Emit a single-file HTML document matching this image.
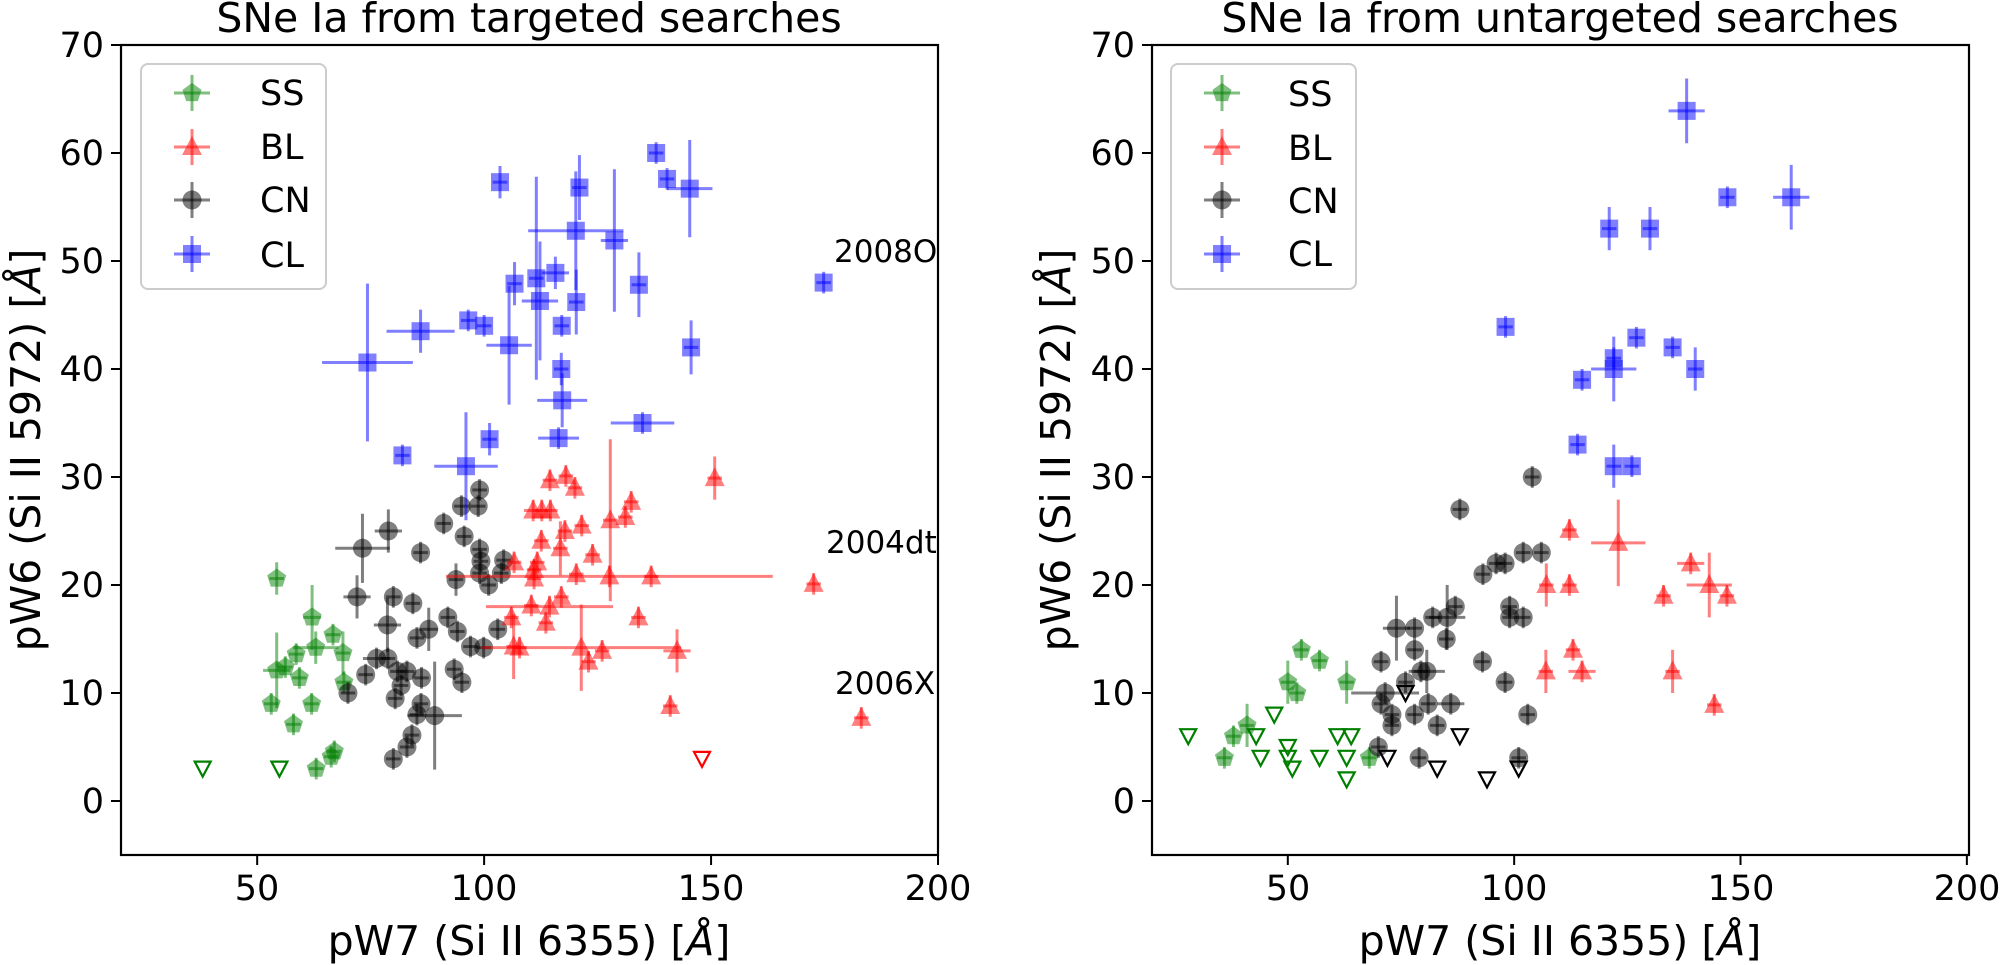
<!DOCTYPE html>
<html><head><meta charset="utf-8">
<style>
html,body{margin:0;padding:0;background:#fff;}
svg{display:block;font-family:"DejaVu Sans","Liberation Sans",sans-serif;}
</style></head>
<body>
<svg id="s" width="2000" height="965" viewBox="0 0 2000 965" xmlns="http://www.w3.org/2000/svg">
<rect width="2000" height="965" fill="#fff"/>
<g id="plot"></g>
<!-- titles -->
<text x="529" y="32" font-size="41" text-anchor="middle">SNe Ia from targeted searches</text>
<text x="1560" y="32" font-size="41" text-anchor="middle">SNe Ia from untargeted searches</text>
<!-- x labels -->
<text x="529" y="955" font-size="41" text-anchor="middle">pW7 (Si II 6355) [<tspan font-style="italic">Å</tspan>]</text>
<text x="1560" y="955" font-size="41" text-anchor="middle">pW7 (Si II 6355) [<tspan font-style="italic">Å</tspan>]</text>
<!-- y labels -->
<text transform="translate(40,450) rotate(-90)" font-size="41" text-anchor="middle">pW6 (Si II 5972) [<tspan font-style="italic">Å</tspan>]</text>
<text transform="translate(1070,450) rotate(-90)" font-size="41" text-anchor="middle">pW6 (Si II 5972) [<tspan font-style="italic">Å</tspan>]</text>
<!-- annotations -->
<text x="834" y="262" font-size="31">2008O</text>
<text x="826" y="553" font-size="31">2004dt</text>
<text x="835" y="694" font-size="31">2006X</text>
<!-- tick labels -->
<g font-size="35" text-anchor="end">
<text x="104" y="813">0</text><text x="104" y="705">10</text><text x="104" y="597">20</text><text x="104" y="489">30</text>
<text x="104" y="381">40</text><text x="104" y="273">50</text><text x="104" y="165">60</text><text x="104" y="57">70</text>
<text x="1135" y="813">0</text><text x="1135" y="705">10</text><text x="1135" y="597">20</text><text x="1135" y="489">30</text>
<text x="1135" y="381">40</text><text x="1135" y="273">50</text><text x="1135" y="165">60</text><text x="1135" y="57">70</text>
</g>
<g font-size="35" text-anchor="middle">
<text x="257" y="900">50</text><text x="484" y="900">100</text><text x="711" y="900">150</text><text x="938" y="900">200</text>
<text x="1288" y="900">50</text><text x="1514" y="900">100</text><text x="1741" y="900">150</text><text x="1967" y="900">200</text>
</g>
<!-- legends -->
<g font-size="35">
<text x="260" y="105">SS</text><text x="260" y="159">BL</text><text x="260" y="212">CN</text><text x="260" y="267">CL</text>
<text x="1288" y="106">SS</text><text x="1288" y="160">BL</text><text x="1288" y="213">CN</text><text x="1288" y="266">CL</text>
</g>
</svg>
<script>
(function(){
var NS="http://www.w3.org/2000/svg";
var g=document.getElementById('plot');
function el(t,a){var e=document.createElementNS(NS,t);for(var k in a)e.setAttribute(k,a[k]);g.appendChild(e);return e;}
var col={SS:"#008000",BL:"#ff0000",CN:"#000000",CL:"#0000ff"};
function marker(kind,cx,cy,c){
  var o={fill:c,'fill-opacity':0.5};
  if(kind=="CL"){o.x=cx-9;o.y=cy-9;o.width=18;o.height=18;el('rect',o);}
  else if(kind=="CN"){o.cx=cx;o.cy=cy;o.r=9.5;el('circle',o);}
  else if(kind=="BL"){o.points=(cx)+","+(cy-11)+" "+(cx-10)+","+(cy+8)+" "+(cx+10)+","+(cy+8);el('polygon',o);}
  else {var p=[];for(var i=0;i<5;i++){var a=-Math.PI/2+i*2*Math.PI/5;p.push((cx+10*Math.cos(a))+","+(cy+10*Math.sin(a)));}o.points=p.join(" ");el('polygon',o);}
}
function pt(X,Y,kind,d){
  var c=col[kind];
  var x=d[0],y=d[1],xe=d[2]||1.6,ye=d[3]||1.0;
  var sx=X(x),sy=Y(y);
  el('line',{x1:X(x-xe),x2:X(x+xe),y1:sy,y2:sy,stroke:c,'stroke-width':3,'stroke-opacity':0.5});
  el('line',{x1:sx,x2:sx,y1:Y(y-ye),y2:Y(y+ye),stroke:c,'stroke-width':3,'stroke-opacity':0.5});
  marker(kind,sx,sy,c);
}
function open(X,Y,c,x,y){var cx=X(x),cy=Y(y);
  el('polygon',{points:(cx-8)+","+(cy-7)+" "+(cx+8)+","+(cy-7)+" "+cx+","+(cy+8),fill:'none',stroke:c,'stroke-width':2.2});}
function Yf(y){return 801-y*10.8;}
function XL(x){return 121+(x-20)*4.539;}
function XR(x){return 1152+(x-20)*4.527;}

var L={
CL:[[137.9,60],[140.3,57.6],[145.3,56.7,5,4.5],[103.5,57.3,0,1.5],[121,56.8,0,3],[120.2,52.8,10.5,5.5],[128.7,51.9,3,6.6],[115.7,48.9,3,1.5],[111.5,48.4,0,9.4],[106.7,47.9,0,2],[112.3,46.3,4,5.5],[120.3,46.2,0,3],[134.1,47.8,0,3],[117.1,44],[100,44],[96.5,44.5],[86,43.5,7.5,2],[105.5,42.2,5,5.5],[145.6,42,0,2.5],[74.3,40.6,10,7.3],[117,40,0,1.5],[117.2,37.1,5.5,2.5],[134.9,35,7],[116.4,33.6,4.5],[101.2,33.5,0,1.5],[82,32],[96,31,7,5],[174.8,48]],
BL:[[114.5,29.7],[118,30.1],[120,29],[150.8,29.9,0,2],[132.4,27.7],[131.1,26.3],[110.8,26.9,2],[112.7,26.9],[114.6,26.9],[127.8,26,0,7.5],[121.5,25.5],[117.8,25],[112.6,24.1],[116.8,23.4,0,2.5],[123.9,22.8],[106.6,22.1],[111.7,22.1],[111,21.4],[111,20.6],[120.3,21],[127.6,20.8,36],[136.8,20.8],[172.6,20.1],[117,18.9],[110.4,18.1],[114.4,18,14],[106,17],[113.6,16.5],[134,17],[106.5,14.3,0,3],[107.8,14.2],[121.4,14.2,22,4],[123,12.9],[126,13.9],[142.5,13.9,3,2],[141,8.8],[183.1,7.7]],
CN:[[99,28.8],[98.7,27.3],[95,27.3],[91.1,25.7],[95.6,24.5],[78.9,25,3,2],[73.2,23.4,6,3.2],[86,23],[99,23.3],[99.3,22.2],[104.3,22.3],[99,21.1],[103.8,21.1],[93.8,20.5,0,1.5],[101,20],[72,18.9,3,2],[80,18.9],[84.3,18.3],[78.7,16.3,3,2.5],[92,17],[94.1,15.7],[87.8,15.9,2,2],[85.2,15.1],[103,15.9],[97,14.3],[99.9,14.2],[76.3,13.2,3],[78.8,13.2],[73.9,11.7],[80.9,12],[83,12],[86.2,11.4],[93.4,12.2],[95.1,11],[70,10],[81.7,10.7],[80.4,9.5],[86.1,9],[85.2,8],[89.1,7.9,6,5],[84.1,6.1],[83,5],[80,3.9]],
SS:[[54.3,20.6,0,1.5],[62.1,17,2,3],[66.7,15.4],[62.9,14.2,5,1.5],[58.6,13.6],[68.9,13.7,0,2],[54.3,12.1,3,3.5],[56.2,12.4],[59.3,11.4],[69.1,11],[53.1,9],[62,9],[58,7.1],[63,3],[66.3,4.1],[67,4.6]]
};
var R={
CL:[[138.1,63.9,4,3],[147.1,55.9],[161.2,55.9,4,3],[121,53,0,2],[130,53,0,2],[98.1,43.9],[127,42.9],[135,42],[122,40,5,3],[122,41],[140,40,0,2],[115,39],[114,33],[122,31,0,2],[126,31]],
BL:[[112.2,25.1],[123,23.9,6,4],[107.1,20,0,2],[112.2,20],[139,22,3],[143.1,20,5,3],[147,19],[133,19],[113,14],[107,12,0,2],[115,12,3],[135,12,0,2],[144.2,8.9]],
CN:[[104,30],[88,27],[93.1,21],[96,22],[98,22],[102,23],[106,23],[99,18],[99,17],[102,17],[87,18],[85.2,17,4,3],[82,17],[78,16],[74,16,3,3],[85,15],[78,14],[70.6,12.9],[80.7,12,4,2],[79.4,12],[93,12.9],[98,11],[76,11],[70.6,9],[71.5,10,7.5],[73,8],[73,7],[78,8],[81,9],[86,9,3],[83,7],[103,8],[70,5],[79,4],[101,4]],
SS:[[36,4],[38,6],[41,7,0,2],[50,11,0,2],[52,10],[53,14],[57,13],[63,11,0,2],[68,4]]
};
["SS","CN","BL","CL"].forEach(function(k){L[k].forEach(function(d){pt(XL,Yf,k,d);});R[k].forEach(function(d){pt(XR,Yf,k,d);});});
open(XL,Yf,"#008000",38,3);open(XL,Yf,"#008000",54.9,3);open(XL,Yf,"#ff0000",148,3.9);
[[28,6],[43,6],[44,4],[47,8],[50,5],[50,4],[51,3],[57,4],[61,6],[64,6],[63,4],[63,2]].forEach(function(p){open(XR,Yf,"#008000",p[0],p[1]);});
[[72,4],[76,10],[83,3],[88,6],[94,2],[101,3]].forEach(function(p){open(XR,Yf,"#000000",p[0],p[1]);});

[[121,938,XL],[1152,1969,XR]].forEach(function(a){
  el('rect',{x:a[0],y:45,width:a[1]-a[0],height:810,fill:'none',stroke:'#000','stroke-width':2.2});
  [50,100,150,200].forEach(function(v){var x=a[2](v);el('line',{x1:x,x2:x,y1:855,y2:865,stroke:'#000','stroke-width':2});});
  for(var v=0;v<=70;v+=10){var y=Yf(v);el('line',{x1:a[0]-10,x2:a[0],y1:y,y2:y,stroke:'#000','stroke-width':2});}
});
[[141,192],[1171,1222]].forEach(function(L0){
  el('rect',{x:L0[0],y:64,width:185,height:225,rx:7,fill:'#fff','fill-opacity':0.8,stroke:'#cccccc','stroke-width':2});
  var rows=[[93,"SS"],[147,"BL"],[200,"CN"],[254,"CL"]];
  rows.forEach(function(r){var c=col[r[1]],cx=L0[1],cy=r[0];
    el('line',{x1:cx-18,x2:cx+18,y1:cy,y2:cy,stroke:c,'stroke-width':3,'stroke-opacity':0.5});
    el('line',{x1:cx,x2:cx,y1:cy-18,y2:cy+18,stroke:c,'stroke-width':3,'stroke-opacity':0.5});
    marker(r[1],cx,cy,c);});
});
})();
</script>
</body></html>
